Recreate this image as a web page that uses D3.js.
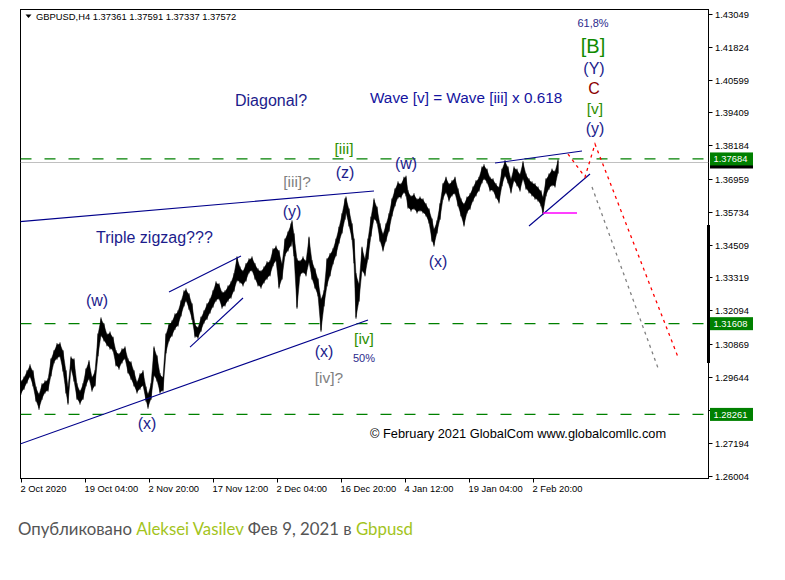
<!DOCTYPE html>
<html><head><meta charset="utf-8">
<script src="https://cdn.jsdelivr.net/npm/d3@7"></script>
<style>body{margin:0;background:#fff}svg{display:block}</style>
</head><body><svg id="c" width="785" height="580"></svg>
<script>
// ---- data (H4 bar index, high, low) ----
const bars=[0,3,6,9,12,15,18,21,24,27,30,33,36,39,42,45,47,50,53,56,59,62,65,68,71,74,77,80,83,86,89,92,95,98,101,104,107,110,113,116,119,122,125,127,130,133,136,139,142,145,148,151,154,157,160,163,165,168,171,174,177,180,183,186,189,192,195,198,201,204,207,210,213,216,219,222,225,228,231,234,237,240,243,246,249,252,255,258,261,264,267,270,271,273,276,279,282,285,288,291,294,297,300,303,306,309,312,315,318,321,324,325,328,331,333,335,338,341,344,347,350,353,356,359,362,365,368,371,374,377,380,383,385,387,390,393,396,399,402,405,408,411,413,416,419,422,425,428,431,434,437,440,443,446,449,452,455,458,461,463,466,469,472,475,478,481,484,487,490,493,496,499,502,505,508,511,514,517,520,522,525,528,531,534,537];
const highs=[1.2946,1.2960,1.2983,1.3005,1.2983,1.2923,1.2898,1.2935,1.2946,1.2953,1.3027,1.3057,1.3083,1.3086,1.3057,1.2983,1.2923,1.3034,1.3027,1.2935,1.2909,1.2935,1.2990,1.3020,1.2960,1.2983,1.3119,1.3178,1.3156,1.3119,1.3126,1.3107,1.3057,1.3046,1.3064,1.3071,1.3027,1.3016,1.2983,1.2942,1.2972,1.2983,1.2923,1.2898,1.2935,1.3071,1.3038,1.2972,1.2960,1.3119,1.3156,1.3167,1.3193,1.3204,1.3241,1.3278,1.3285,1.3267,1.3230,1.3156,1.3144,1.3181,1.3204,1.3230,1.3248,1.3278,1.3311,1.3304,1.3274,1.3278,1.3296,1.3311,1.3341,1.3403,1.3366,1.3352,1.3378,1.3396,1.3403,1.3378,1.3359,1.3352,1.3366,1.3385,1.3389,1.3433,1.3443,1.3426,1.3378,1.3469,1.3495,1.3525,1.3536,1.3488,1.3396,1.3389,1.3403,1.3389,1.3476,1.3389,1.3359,1.3322,1.3248,1.3278,1.3396,1.3415,1.3433,1.3469,1.3513,1.3562,1.3617,1.3624,1.3580,1.3525,1.3469,1.3341,1.3304,1.3439,1.3396,1.3469,1.3550,1.3617,1.3587,1.3525,1.3488,1.3525,1.3562,1.3617,1.3654,1.3680,1.3673,1.3697,1.3701,1.3647,1.3628,1.3636,1.3617,1.3624,1.3617,1.3599,1.3580,1.3543,1.3506,1.3536,1.3599,1.3673,1.3697,1.3673,1.3684,1.3697,1.3654,1.3617,1.3599,1.3624,1.3636,1.3661,1.3684,1.3697,1.3735,1.3743,1.3727,1.3697,1.3691,1.3673,1.3661,1.3727,1.3758,1.3735,1.3691,1.3735,1.3727,1.3709,1.3754,1.3709,1.3691,1.3680,1.3673,1.3661,1.3647,1.3624,1.3691,1.3709,1.3727,1.3720,1.3761];
const lows=[1.2905,1.2923,1.2946,1.2968,1.2935,1.2879,1.2849,1.2886,1.2909,1.2916,1.2972,1.3020,1.3034,1.3042,1.2990,1.2909,1.2868,1.2997,1.2953,1.2886,1.2868,1.2886,1.2935,1.2960,1.2916,1.2935,1.3046,1.3119,1.3101,1.3083,1.3071,1.3064,1.3009,1.2997,1.3020,1.3034,1.2983,1.2960,1.2935,1.2909,1.2923,1.2935,1.2879,1.2853,1.2886,1.2972,1.2953,1.2909,1.2916,1.3057,1.3101,1.3119,1.3144,1.3156,1.3193,1.3230,1.3248,1.3218,1.3181,1.3115,1.3111,1.3137,1.3167,1.3181,1.3204,1.3226,1.3248,1.3255,1.3222,1.3230,1.3248,1.3259,1.3285,1.3322,1.3315,1.3304,1.3322,1.3352,1.3359,1.3329,1.3304,1.3296,1.3315,1.3329,1.3341,1.3378,1.3396,1.3296,1.3329,1.3415,1.3433,1.3451,1.3469,1.3415,1.3222,1.3341,1.3352,1.3341,1.3389,1.3329,1.3296,1.3267,1.3137,1.3230,1.3304,1.3341,1.3385,1.3415,1.3462,1.3499,1.3550,1.3573,1.3525,1.3476,1.3389,1.3185,1.3248,1.3359,1.3341,1.3403,1.3488,1.3550,1.3536,1.3469,1.3433,1.3469,1.3506,1.3562,1.3599,1.3628,1.3628,1.3647,1.3636,1.3591,1.3580,1.3587,1.3573,1.3580,1.3573,1.3562,1.3536,1.3469,1.3451,1.3499,1.3550,1.3624,1.3647,1.3617,1.3636,1.3643,1.3599,1.3562,1.3525,1.3573,1.3587,1.3617,1.3636,1.3654,1.3684,1.3697,1.3684,1.3654,1.3654,1.3628,1.3610,1.3673,1.3709,1.3684,1.3647,1.3691,1.3673,1.3654,1.3697,1.3661,1.3647,1.3636,1.3624,1.3617,1.3599,1.3569,1.3636,1.3661,1.3673,1.3669,1.3720];

const yTickValues=[1.43049,1.41824,1.40599,1.39409,1.38184,1.36959,1.35734,1.34509,1.33319,1.32094,1.30869,1.29644,1.28419,1.27194,1.26004];
const xTickBars=[0,64,128,192,256,320,384,448,512];
const xTickLabels=["2 Oct 2020","19 Oct 04:00","2 Nov 20:00","17 Nov 12:00","2 Dec 04:00","16 Dec 20:00","4 Jan 12:00","19 Jan 04:00","2 Feb 20:00"];
const levelPrices=[1.37684,1.31608,1.28261];
const lastPrice=1.37572;
const headerText="GBPUSD,H4  1.37361 1.37591 1.37337 1.37572";

// trend lines: [bar1, price1, bar2, price2]
const blueLines=[
  [-1,1.35372,353,1.36501],
  [-1,1.27168,347,1.31742],
  [148,1.32775,220,1.34103],
  [169,1.30746,222,1.32554],
  [474,1.37534,561,1.37977],
  [508,1.35210,569,1.37128]
];
const magentaLine=[522,1.3569,556,1.3569];
const redPathBars=[547,564,574,657];
const redPathPrices=[1.37866,1.37017,1.38235,1.30377];
const grayPathBars=[571,637];
const grayPathPrices=[1.36649,1.29971];

// wave labels: text, bar, price, kind
const labelTexts=["61,8%","[B]","(Y)","C","[v]","(y)","Diagonal?","Wave [v] = Wave [iii] x 0.618","[iii]","(z)","[iii]?","(w)","(y)","Triple zigzag???","(w)","(x)","(x)","[iv]","50%","[iv]?","(x)","© February 2021 GlobalCom www.globalcomllc.com"];
const labelBars=[572,572,573,573,574,574,214,349,323,324,276,385,271,75,76,126,303,343,343,308,417,349];
const labelPrices=[1.42699,1.41850,1.41038,1.40301,1.39563,1.38825,1.39858,1.39969,1.38087,1.37202,1.36870,1.37534,1.35763,1.34804,1.32480,1.27943,1.30599,1.31078,1.30340,1.29639,1.33919,1.27574];
const labelKinds=["pct","B","wave","C","green","wave","title","title2","green","wave","gray","wave","wave","title","wave","wave","wave","green","pct","gray","wave","copy"];

const footerParts=[["Опубликовано ","g"],["Aleksei Vasilev","l"],[" Фев 9, 2021 в ","g"],["Gbpusd","l"]];

// ---- layout ----
const L=20.5,R=708.5,T=9.5,B=478.5;
const x=d3.scaleLinear().domain([0,687]).range([21,708]);
const y=d3.scaleLinear().domain([1.26004,1.43049]).range([475.6,13.5]);
const svg=d3.select("#c");
const AX="'Liberation Sans',Arial,sans-serif";

// frame
svg.append("rect").attr("x",L).attr("y",T).attr("width",R-L).attr("height",B-T)
  .attr("fill","#fff").attr("stroke","#000").attr("stroke-width",1);

svg.append("clipPath").attr("id","pc").append("rect").attr("x",L).attr("y",T).attr("width",R-L).attr("height",B-T);
const plot=svg.append("g").attr("clip-path","url(#pc)");

// level lines
plot.append("line").attr("x1",L).attr("x2",R).attr("y1",Math.round(y(lastPrice))+0.5).attr("y2",Math.round(y(lastPrice))+0.5)
  .attr("stroke","#c0c0c0").attr("stroke-width",1);
levelPrices.forEach(p=>{
  plot.append("line").attr("x1",L).attr("x2",R).attr("y1",y(p)).attr("y2",y(p))
    .attr("stroke","#008000").attr("stroke-width",1.2).attr("stroke-dasharray","11,13");
});

// price band
const data=bars.map((b,i)=>({b,h:highs[i],l:lows[i]}));
plot.append("path").datum(data)
  .attr("d",d3.area().x(d=>x(d.b)).y0(d=>y(d.l)).y1(d=>y(d.h)))
  .attr("fill","#000").attr("stroke","#000").attr("stroke-width",0.5);
plot.selectAll("line.bar").data(data).join("line").attr("class","bar")
  .attr("x1",d=>x(d.b)).attr("x2",d=>x(d.b)).attr("y1",d=>y(d.h)-1.5).attr("y2",d=>y(d.l)+1.5)
  .attr("stroke","#000").attr("stroke-width",1);

// trend lines
blueLines.forEach(t=>{
  plot.append("line").attr("x1",x(t[0])).attr("y1",y(t[1])).attr("x2",x(t[2])).attr("y2",y(t[3]))
    .attr("stroke","#00008b").attr("stroke-width",1.1);
});
plot.append("line").attr("x1",x(magentaLine[0])).attr("y1",y(magentaLine[1])).attr("x2",x(magentaLine[2])).attr("y2",y(magentaLine[3]))
  .attr("stroke","#ff00ff").attr("stroke-width",1.3);
const ln=d3.line().x(d=>x(d[0])).y(d=>y(d[1]));
plot.append("path").attr("d",ln(redPathBars.map((b,i)=>[b,redPathPrices[i]])))
  .attr("fill","none").attr("stroke","#ff0000").attr("stroke-width",1.3).attr("stroke-dasharray","3,4");
plot.append("path").attr("d",ln(grayPathBars.map((b,i)=>[b,grayPathPrices[i]])))
  .attr("fill","none").attr("stroke","#808080").attr("stroke-width",1.3).attr("stroke-dasharray","3,4");

// labels
const kindStyle={
  pct:{size:11,color:"#2a2a8c",anchor:"middle"},
  B:{size:20,color:"#108a00",anchor:"middle"},
  wave:{size:16,color:"#1c1c8c",anchor:"middle"},
  C:{size:16,color:"#8b0000",anchor:"middle"},
  green:{size:15.5,color:"#2f8f00",anchor:"middle"},
  gray:{size:15.5,color:"#7f7f7f",anchor:"middle"},
  title:{size:16,color:"#1c1c8c",anchor:"start"},
  title2:{size:15.3,color:"#1414a0",anchor:"start"},
  copy:{size:12.8,color:"#000",anchor:"start"}
};
labelTexts.forEach((t,i)=>{
  const s=kindStyle[labelKinds[i]];
  svg.append("text").attr("x",x(labelBars[i])).attr("y",y(labelPrices[i]))
    .attr("dy","0.36em").attr("text-anchor",s.anchor)
    .attr("font-family",AX).attr("font-size",s.size).attr("fill",s.color).text(t);
});

// header
svg.append("path").attr("d","M25.5,14.5 L31.5,14.5 L28.5,18 Z").attr("fill","#000");
svg.append("text").attr("x",36).attr("y",20).attr("font-family",AX).attr("font-size",9.4).attr("fill","#000").text(headerText);

// right axis (labels hidden behind price boxes are not drawn)
const yAx=svg.append("g");
yTickValues.forEach(v=>{
  const yy=Math.round(y(v))+0.5;
  yAx.append("line").attr("x1",R).attr("x2",R+4).attr("y1",yy).attr("y2",yy).attr("stroke","#000");
  const covered=levelPrices.some(p=>Math.abs(y(p)-y(v))<10);
  if(!covered) yAx.append("text").attr("x",R+6.5).attr("y",yy).attr("dy","0.35em").attr("font-family",AX).attr("font-size",9.4).attr("fill","#000").text(v.toFixed(5));
});
svg.append("rect").attr("x",R-1.5).attr("y",225).attr("width",3).attr("height",138).attr("fill","#000");
// price boxes
svg.append("rect").attr("x",R+1.5).attr("y",y(lastPrice)-6.5).attr("width",43).attr("height",13).attr("fill","#000");
levelPrices.forEach(p=>{
  const yy=y(p);
  svg.append("rect").attr("x",R+1.5).attr("y",yy-6.5).attr("width",43).attr("height",13).attr("fill","#008000");
  svg.append("text").attr("x",R+5).attr("y",yy).attr("dy","0.36em").attr("font-family",AX).attr("font-size",9.4).attr("fill","#fff").text(p.toFixed(5));
});

// bottom axis
xTickBars.forEach((b,i)=>{
  const xx=Math.round(x(b))+0.5;
  svg.append("line").attr("x1",xx).attr("x2",xx).attr("y1",B).attr("y2",B+4).attr("stroke","#000");
  svg.append("text").attr("x",xx-1).attr("y",492).attr("font-family",AX).attr("font-size",9.4).attr("fill","#000").text(xTickLabels[i]);
});

// footer
const ft=svg.append("text").attr("x",18).attr("y",535).attr("font-family","Lato,'Open Sans',sans-serif").attr("font-size",16.8);
footerParts.forEach(p=>ft.append("tspan").attr("fill",p[1]==="g"?"#555":"#a3c41c").text(p[0]));
</script></body></html>
